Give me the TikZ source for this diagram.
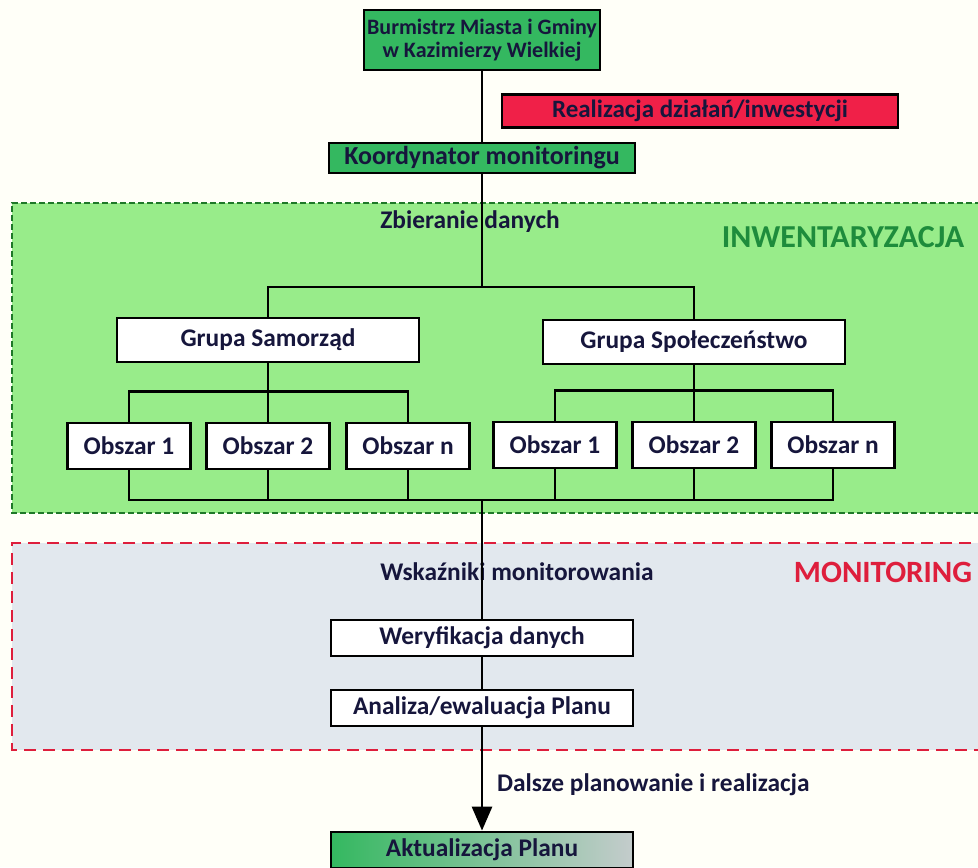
\documentclass[tikz,border=0pt]{standalone}
\usepackage{fontspec}
\setmainfont{Carlito}
\usetikzlibrary{arrows.meta, positioning, calc}
\definecolor{colBg}{RGB}{255, 255, 248}
\definecolor{colTxt}{RGB}{22, 22, 60}
\definecolor{colBox}{RGB}{52, 184, 96}
\definecolor{colRed}{RGB}{240, 32, 72}
\definecolor{colInw}{RGB}{152, 236, 138}
\definecolor{colInwB}{RGB}{30, 120, 40}
\definecolor{colInwT}{RGB}{30, 140, 60}
\definecolor{colMon}{RGB}{226, 232, 238}
\definecolor{colMonB}{RGB}{222, 30, 60}
\definecolor{colGrey}{RGB}{196, 204, 204}

\begin{document}
\begin{tikzpicture}[x=0.5pt, y=-0.5pt,
    every node/.style={font=\bfseries\fontsize{12.7}{15}\selectfont, text=colTxt},
    conn/.style={line width=1.4pt},
    box/.style={draw=black, line width=1.4pt, fill=white, inner sep=0pt},
    obox/.style={box, minimum width=61.5pt, minimum height=23pt},
    gbox/.style={box, minimum width=151pt, minimum height=22pt},
    mbox/.style={box, minimum width=151pt, minimum height=18pt}]
    \useasboundingbox[fill=colBg] (0,0) rectangle (978,867);

    % obszary tla
    \fill[colInw] (12,203) rectangle (990,513);
    \draw[colInwB, line width=0.8pt, dash pattern=on 3pt off 1.5pt] (990,203) -- (12,203) -- (12,513) -- (990,513);
    \fill[colMon] (12,543) rectangle (990,750);
    \draw[colMonB, line width=0.9pt, dash pattern=on 6pt off 3.5pt] (990,543) -- (12,543) -- (12,750) -- (990,750);

    % gora
    \node[box, fill=colBox, minimum width=118pt, minimum height=30pt, align=center,
        font=\bfseries\fontsize{11}{11.5}\selectfont] (burm) at (482,40)
        {Burmistrz Miasta i Gminy\\w Kazimierzy Wielkiej};
    \node[box, fill=colRed, minimum width=198pt, minimum height=16.5pt,
        font=\bfseries\fontsize{12.5}{14}\selectfont] (real) at (700,111) {Realizacja działań/inwestycji};
    \node[box, fill=colBox, minimum width=153pt, minimum height=15pt,
        font=\bfseries\fontsize{13}{15}\selectfont] (koord) at (482,158) {Koordynator monitoringu};

    % inwentaryzacja
    \node (zbier) at (470,222) {Zbieranie danych};
    \node[text=colInwT, font=\bfseries\fontsize{16}{18}\selectfont] (inw) at (843,237) {INWENTARYZACJA};
    \node[gbox] (gS) at (268,340) {Grupa Samorząd};
    \node[gbox] (gP) at (694,342) {Grupa Społeczeństwo};
    \node[obox] (oS1) at (129,446) {Obszar 1};
    \node[obox] (oS2) at (268,446) {Obszar 2};
    \node[obox] (oS3) at (408,446) {Obszar n};
    \node[obox] (oP1) at (555,445) {Obszar 1};
    \node[obox] (oP2) at (694,445) {Obszar 2};
    \node[obox] (oP3) at (833,445) {Obszar n};
    \coordinate (jTop) at (482,287);
    \coordinate (jBot) at (482,500);

    % monitoring
    \node (wsk) at (517,572) {Wskaźniki monitorowania};
    \node[text=colMonB, font=\bfseries\fontsize{15.5}{18}\selectfont] (moni) at (883,572) {MONITORING};
    \node[mbox] (wer) at (482,638) {Weryfikacja danych};
    \node[mbox] (anal) at (482,708) {Analiza/ewaluacja Planu};

    % dol
    \node[anchor=west] (dalsze) at (490,785) {Dalsze planowanie i realizacja};
    \node[box, left color=colBox, right color=colGrey, minimum width=151pt, minimum height=18pt] (akt) at (482,850) {Aktualizacja Planu};

    % polaczenia
    \draw[conn] (burm.south) -- (koord.north);
    \draw[conn] (koord.south) -- (jTop);
    \draw[conn] (gS.north) |- (jTop) -| (gP.north);
    \draw[conn] (gS.south) -- (oS2.north);
    \draw[conn] (oS1.north) -- ++(0,-30) -| (oS3.north);
    \draw[conn] (gP.south) -- (oP2.north);
    \draw[conn] (oP1.north) -- ++(0,-30) -| (oP3.north);
    \draw[conn] (oS1.south) |- (jBot) -| (oP3.south);
    \foreach \n in {oS2, oS3, oP1, oP2}
        \draw[conn] (\n.south) -- (\n.south |- jBot);
    \draw[conn] (jBot) -- (wer.north);
    \draw[conn] (wer.south) -- (anal.north);
    \draw[conn, -{Triangle[width=10pt, length=12pt]}] (anal.south) -- (akt.north);
\end{tikzpicture}
\end{document}
